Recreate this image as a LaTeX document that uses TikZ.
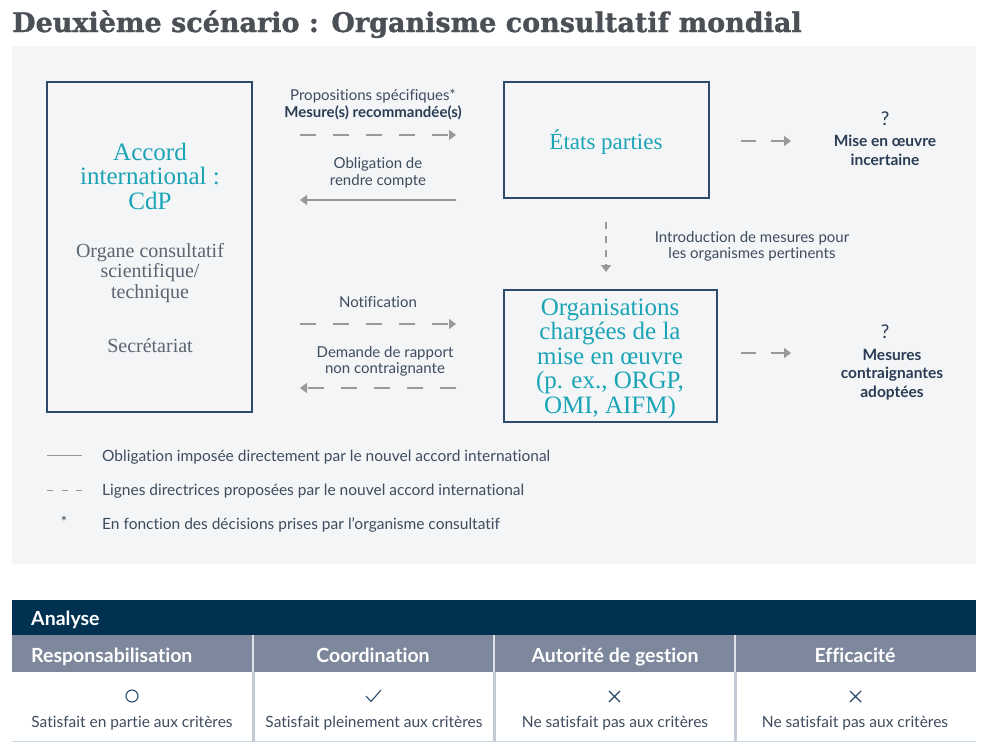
\documentclass[tikz,border=0pt]{standalone}
\usepackage{fontspec}
\setmainfont{Lato}[Ligatures=NoCommon]
\newfontfamily\slabfont{Liberation Serif}
\newfontfamily\titlefont{DejaVu Serif}[BoldFeatures={FakeBold=1.2}]
\usetikzlibrary{arrows.meta}
\definecolor{panel}{HTML}{F3F5F7}
\definecolor{boxline}{HTML}{2C4A6A}
\definecolor{tealc}{HTML}{1AA4B6}
\definecolor{boxgray}{HTML}{5B6572}
\definecolor{arrowgray}{HTML}{999999}
\definecolor{lblc}{HTML}{3E4C5E}
\definecolor{boldc}{HTML}{2A3C54}
\definecolor{titlec}{HTML}{4B5056}
\definecolor{navy}{HTML}{003150}
\definecolor{headgray}{HTML}{7E889C}
\definecolor{sepc}{HTML}{C3C9D5}
\definecolor{bottomc}{HTML}{C7D6E7}
\definecolor{markc}{HTML}{2C4A6A}
\begin{document}
\begin{tikzpicture}[x=1pt,y=-1pt,
  boxst/.style={draw=boxline, line width=1.4pt, inner sep=0},
  tealtxt/.style={font=\slabfont\fontsize{25}{24.5}\selectfont, text=tealc, align=center, inner sep=0, anchor=base},
  graytxt/.style={font=\slabfont\fontsize{20}{20.5}\selectfont, text=boxgray, align=center, inner sep=0, anchor=base},
  lbl/.style={font=\fontsize{15}{17}\selectfont, text=lblc, align=center, inner sep=0, anchor=base},
  lblb/.style={font=\bfseries\fontsize{15.5}{18.5}\selectfont, text=boldc, align=center, inner sep=0, anchor=base},
  qmark/.style={font=\fontsize{19}{20}\selectfont, text=boldc, inner sep=0, anchor=base},
  arr/.style={draw=arrowgray, line width=1.6pt, -{Triangle[length=7pt,width=10pt]}},
  dashlong/.style={arr, dash pattern=on 16pt off 17pt},
  dashshort/.style={arr, dash pattern=on 15pt off 15pt},
  dashvert/.style={arr, dash pattern=on 7pt off 7pt},
  legtxt/.style={font=\fontsize{15.5}{17}\selectfont, text=lblc, inner sep=0, anchor=base west},
  headtxt/.style={font=\bfseries\fontsize{19.5}{21}\selectfont, text=white, inner sep=0, anchor=base},
  celltxt/.style={font=\fontsize{15.5}{17}\selectfont, text=lblc, inner sep=0, anchor=base},
  markst/.style={draw=markc, line width=1.1pt}
]
\useasboundingbox (0,0) rectangle (990,755);
% title
\node[font=\titlefont\bfseries\fontsize{27}{30}\selectfont, text=titlec, anchor=base west, inner sep=0] (title) at (12,32) {Deuxième scénario : Organisme consultatif mondial};
% panel
\fill[panel] (12,46) rectangle (976,564);
% boxes
\node[boxst, minimum width=205pt, minimum height=330pt] (accord) at (149.5,247) {};
\node[boxst, minimum width=205pt, minimum height=116pt] (etats) at (606.5,140) {};
\node[boxst, minimum width=213pt, minimum height=132pt] (orgs) at (610.5,356) {};
% box texts (base anchor = baseline of last line)
\node[tealtxt] (accordt) at (150,209) {Accord\\international :\\CdP};
\node[graytxt] (organe) at (150,298) {Organe consultatif\\scientifique/\\technique};
\node[graytxt] (secr) at (150,352) {Secrétariat};
\node[tealtxt, font=\slabfont\fontsize{23}{24}\selectfont] (etatst) at (606,149) {États parties};
\node[tealtxt] (orgst) at (610,413) {Organisations\\chargées de la\\mise en œuvre\\(p. ex., ORGP,\\OMI, AIFM)};
% labels
\node[lbl] (prop) at (373,100) {Propositions spécifiques*};
\node[lblb, font=\bfseries\fontsize{15}{18}\selectfont] (mes) at (373,117) {Mesure(s) recommandée(s)};
\node[lbl] (oblig) at (378,185) {Obligation de\\rendre compte};
\node[lbl] (notif) at (378,307) {Notification};
\node[lbl, font=\fontsize{15}{16}\selectfont] (dem) at (385,373) {Demande de rapport\\non contraignante};
\node[lbl, font=\fontsize{15}{15.5}\selectfont] (intro) at (752,258) {Introduction de mesures pour\\les organismes pertinents};
\node[qmark] (q1) at (885,125) {?};
\node[lblb] (mise) at (885,165) {Mise en œuvre\\incertaine};
\node[qmark] (q2) at (885,338) {?};
\node[lblb] (mesc) at (892,397) {Mesures\\contraignantes\\adoptées};
% connector end points
\coordinate (a1s) at (300,135); \coordinate (a1e) at (456,135);
\coordinate (a2s) at (456,200); \coordinate (a2e) at (300,200);
\coordinate (a3s) at (300,324); \coordinate (a3e) at (456,324);
\coordinate (a4s) at (456,388); \coordinate (a4e) at (300,388);
\coordinate (a5s) at (606,222); \coordinate (a5e) at (606,272);
\coordinate (a6s) at (741,141); \coordinate (a6e) at (791,141);
\coordinate (a7s) at (741,353); \coordinate (a7e) at (791,353);
\draw[dashlong] (a1s) -- (a1e);
\draw[arr] (a2s) -- (a2e);
\draw[dashlong] (a3s) -- (a3e);
\draw[dashlong] (a4s) -- (a4e);
\draw[dashvert] (a5s) -- (a5e);
\draw[dashshort] (a6s) -- (a6e);
\draw[dashshort] (a7s) -- (a7e);
% legend
\coordinate (l1s) at (47,455); \coordinate (l1e) at (82,455);
\coordinate (l2s) at (47,490); \coordinate (l2e) at (82,490);
\draw[arrowgray, line width=1pt] (l1s) -- (l1e);
\draw[arrowgray, line width=1pt, dash pattern=on 6pt off 8.5pt] (l2s) -- (l2e);
\node[lbl] (star) at (64,527) {*};
\node[legtxt] (leg1) at (102,461) {Obligation imposée directement par le nouvel accord international};
\node[legtxt] (leg2) at (102,495) {Lignes directrices proposées par le nouvel accord international};
\node[legtxt] (leg3) at (102,529) {En fonction des décisions prises par l’organisme consultatif};
% table
\fill[navy] (12,600) rectangle (976,635);
\fill[headgray] (12,635) rectangle (976,672);
\fill[white] (12,672) rectangle (976,741);
\draw[bottomc, line width=1pt] (12,741.5) -- (976,741.5);
\foreach \xx in {253,494,735} {
  \draw[white!75!headgray, line width=1.5pt] (\xx,635) -- (\xx,672);
  \draw[sepc, line width=3pt] (\xx,672) -- (\xx,741);
}
\node[headtxt, anchor=base west] (analyse) at (31,625) {Analyse};
\node[headtxt, anchor=base west] (h1) at (31,662) {Responsabilisation};
\node[headtxt] (h2) at (373,662) {Coordination};
\node[headtxt] (h3) at (615,662) {Autorité de gestion};
\node[headtxt] (h4) at (855,662) {Efficacité};
\node[celltxt] (c1) at (132,727) {Satisfait en partie aux critères};
\node[celltxt] (c2) at (374,727) {Satisfait pleinement aux critères};
\node[celltxt] (c3) at (615,727) {Ne satisfait pas aux critères};
\node[celltxt] (c4) at (855,727) {Ne satisfait pas aux critères};
% marks
\draw[markst] (132,696) circle (6pt);
\draw[markst] (366,696) -- (371,701.5) -- (381,690);
\draw[markst] (609,691) -- (620,702) (620,691) -- (609,702);
\draw[markst] (850,691) -- (861,702) (861,691) -- (850,702);
\end{tikzpicture}
\end{document}
